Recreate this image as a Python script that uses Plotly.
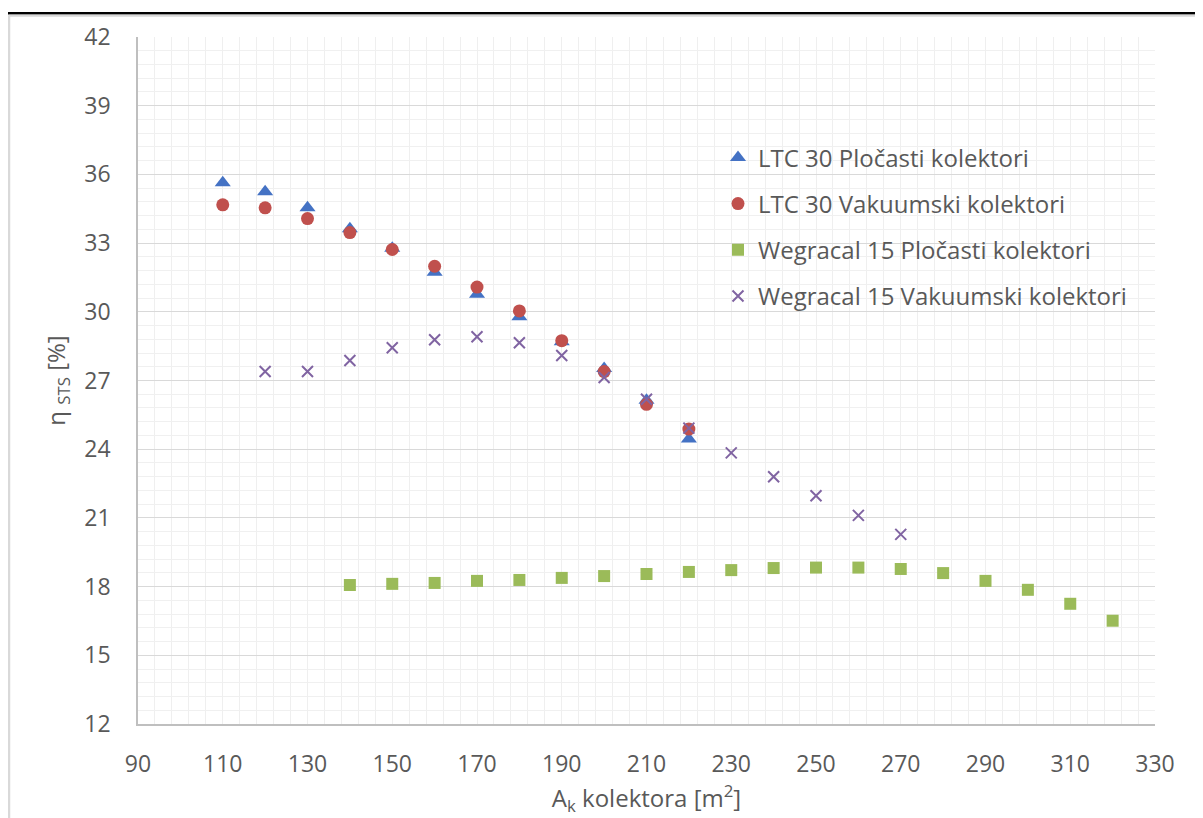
import plotly.graph_objects as go

# ---- data ----
x_ltc_p = [110, 120, 130, 140, 150, 160, 170, 180, 190, 200, 210, 220]
y_ltc_p = [35.63, 35.24, 34.54, 33.63, 32.77, 31.73, 30.77, 29.78, 28.69, 27.52, 26.14, 24.44]

x_ltc_v = [110, 120, 130, 140, 150, 160, 170, 180, 190, 200, 210, 220]
y_ltc_v = [34.67, 34.54, 34.07, 33.46, 32.72, 31.99, 31.08, 30.04, 28.74, 27.39, 25.96, 24.88]

x_weg_p = [140, 150, 160, 170, 180, 190, 200, 210, 220, 230, 240, 250, 260, 270, 280, 290, 300, 310, 320]
y_weg_p = [18.07, 18.12, 18.16, 18.25, 18.29, 18.38, 18.46, 18.55, 18.64, 18.72, 18.81, 18.83, 18.83, 18.77,
           18.59, 18.25, 17.86, 17.25, 16.51]

x_weg_v = [120, 130, 140, 150, 160, 170, 180, 190, 200, 210, 220, 230, 240, 250, 260, 270]
y_weg_v = [27.39, 27.39, 27.87, 28.43, 28.78, 28.91, 28.65, 28.09, 27.13, 26.18, 24.92, 23.84, 22.80,
           21.97, 21.11, 20.28]

names = ["LTC 30 Pločasti kolektori", "LTC 30 Vakuumski kolektori",
         "Wegracal 15 Pločasti kolektori", "Wegracal 15 Vakuumski kolektori"]

x_ticks = list(range(90, 331, 20))
y_ticks = list(range(12, 43, 3))

FONT = "Open Sans"
GREY = "#595959"

fig = go.Figure()
fig.add_trace(go.Scatter(x=x_ltc_p, y=y_ltc_p, mode="markers", name=names[0], legendgroup="a",
                         marker=dict(symbol="triangle-up", size=14, color="#4472C4")))
fig.add_trace(go.Scatter(x=x_ltc_v, y=y_ltc_v, mode="markers", name=names[1], legendgroup="b",
                         marker=dict(symbol="circle", size=13, color="#C0504D")))
fig.add_trace(go.Scatter(x=x_weg_p, y=y_weg_p, mode="markers", name=names[2], legendgroup="c",
                         marker=dict(symbol="square", size=12, color="#9BBB59")))
fig.add_trace(go.Scatter(x=x_weg_v, y=y_weg_v, mode="markers", name=names[3], legendgroup="d",
                         marker=dict(symbol="x-thin", size=11, color="#8064A2",
                                     line=dict(width=2, color="#8064A2"))))

PX0, PY0, PW, PH = 138, 725, 1017, 692  # page coordinates of plot area


def px(x):
    return (x - PX0) / PW


def py(y):
    return (PY0 - y) / PH


fig.update_layout(
    width=1195, height=810,
    margin=dict(l=130, r=48, t=25, b=93),
    paper_bgcolor="white", plot_bgcolor="white",
    font=dict(family=FONT, size=23, color=GREY),
    showlegend=True,
    legend=dict(x=px(718), y=py(132), xanchor="left", yanchor="top",
                bgcolor="rgba(0,0,0,0)", font=dict(size=24, color=GREY),
                traceorder="grouped", tracegroupgap=12, itemwidth=30),
    xaxis=dict(range=[90, 330], tickvals=x_ticks, ticktext=[str(v) for v in x_ticks],
               showgrid=True, gridcolor="#EFEFEF", gridwidth=1,
               showline=True, linecolor="#BFBFBF", linewidth=1.5, ticks="",
               zeroline=False, tickfont=dict(size=23, color=GREY), ticklabelstandoff=19,
               minor=dict(dtick=4, tick0=90, showgrid=True, gridcolor="#EFEFEF", gridwidth=1),
               title=dict(text="A<sub>k</sub> kolektora [m<sup>2</sup>]", standoff=10,
                          font=dict(size=24, color=GREY))),
    yaxis=dict(range=[12, 42], tickvals=y_ticks, ticktext=[str(v) for v in y_ticks],
               showgrid=True, gridcolor="#D9D9D9", gridwidth=1.2,
               minor=dict(dtick=0.6, tick0=12, showgrid=True, gridcolor="#F0F0F0", gridwidth=1),
               showline=True, linecolor="#BFBFBF", linewidth=1.5, ticks="",
               zeroline=False, tickfont=dict(size=23, color=GREY), ticklabelstandoff=21,
               title=dict(text="η <sub>STS</sub> [%]", standoff=12,
                          font=dict(size=24, color=GREY))),
    shapes=[
        dict(type="line", xref="paper", yref="paper", x0=px(8), x1=px(1210),
             y0=py(9), y1=py(9), line=dict(color="black", width=2.5)),
        dict(type="line", xref="paper", yref="paper", x0=px(9), x1=px(1210),
             y0=py(11.5), y1=py(11.5), line=dict(color="#D9D9D9", width=2)),
        dict(type="line", xref="paper", yref="paper", x0=px(9), x1=px(9),
             y0=py(11), y1=py(830), line=dict(color="#D9D9D9", width=2.5)),
    ],
)

fig.write_html("out.html")
